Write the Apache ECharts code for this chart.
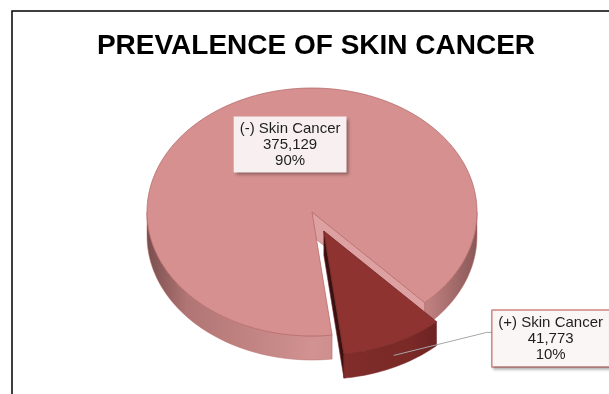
<!DOCTYPE html>
<html>
<head>
<meta charset="utf-8">
<script src="https://cdn.jsdelivr.net/npm/echarts@6/dist/echarts.min.js"></script>
<style>
html,body{margin:0;padding:0;background:#fff;}
#main{width:609px;height:394px;}
</style>
</head>
<body>
<div id="main"></div>
<script>
// prevalence of skin cancer - 3d looking pie drawn with a custom series

var categories = ['(-) Skin Cancer', '(+) Skin Cancer'];
var counts = [375129, 41773];

var COLOR = {
	TOP: ['#D5908F', '#8F3331'],
	EDGE: ['#B86C6B', '#732624'],
	FACE: ['#DCA1A0', '#3A1010'],
	WALL: [
		[[0,'#7A4E4E'],[0.12,'#B07574'],[0.5,'#D19291'],[0.85,'#C08080'],[1,'#8A5858']],
		[[0,'#5A1B1A'],[0.3,'#6E2422'],[0.55,'#812D2B'],[0.8,'#7A2927'],[1,'#5A1B1A']]
	]
};

var PIE = {cx:312, cy:212, rx:165, ry:124, depth:24, start:277, explode:[0,28]};
var LABEL_INSIDE = {r:0.6, dx:20, dy:0};
var LABEL_OUTSIDE = {dx:98, dy:-17, w:118};

var total = counts.reduce(function(a,b){return a+b;},0);

function rad(d){ return d*Math.PI/180; }

function fmt(v){
	return String(v).replace(/\B(?=(\d{3})+(?!\d))/g, ',');
}

function renderSlice(params, api){
	var idx = params.dataIndex;
	var before = 0;
	for (var i = 0; i < idx; i++) before += counts[i];
	var a0 = PIE.start - before/total*360;
	var a1 = a0 - api.value(1)/total*360;
	var mid = (a0+a1)/2;

	var off = PIE.explode[idx];
	var ox = PIE.cx + off*Math.cos(rad(mid));
	var oy = PIE.cy - off*Math.sin(rad(mid))*PIE.ry/PIE.rx;

	function pt(a, r, down){
		return [ox + r*PIE.rx*Math.cos(rad(a)), oy - r*PIE.ry*Math.sin(rad(a)) + (down||0)];
	}

	// sample angles along the arc
	var angles = [a1];
	for (var a = Math.ceil(a1/2)*2; a < a0; a += 2){
		if (a > a1) angles.push(a);
	}
	for (var k = Math.ceil(a1/180); k*180 < a0; k++){
		if (k*180 > a1) angles.push(k*180);
	}
	angles.push(a0);
	angles.sort(function(x,y){return x-y;});

	var children = [];
	var grad = new echarts.graphic.LinearGradient(PIE.cx-PIE.rx, 0, PIE.cx+PIE.rx, 0,
		COLOR.WALL[idx].map(function(s){return {offset:s[0], color:s[1]};}), true);

	// cut faces
	var faces = [];
	if (Math.cos(rad(a1)) > 0) faces.push(a1);
	if (Math.cos(rad(a0)) < 0) faces.push(a0);
	faces.forEach(function(fa){
		children.push({
			type:'polygon',
			shape:{points:[pt(fa,0), pt(fa,1), pt(fa,1,PIE.depth), pt(fa,0,PIE.depth)]},
			style:{fill:COLOR.FACE[idx], stroke:COLOR.EDGE[idx], lineWidth:0.6}
		});
	});

	// outer wall, only front half
	var runs = [], cur = null;
	angles.forEach(function(a){
		if (Math.sin(rad(a)) <= 1e-9){
			if (!cur){ cur = []; runs.push(cur); }
			cur.push(a);
		} else {
			cur = null;
		}
	});
	runs.forEach(function(run){
		if (run.length < 2) return;
		var top = run.map(function(a){return pt(a,1);});
		var bot = run.map(function(a){return pt(a,1,PIE.depth);}).reverse();
		children.push({
			type:'polygon',
			shape:{points:top.concat(bot)},
			style:{fill:grad, stroke:COLOR.EDGE[idx], lineWidth:0.5}
		});
	});

	// top surface
	var topPts = [pt(a1,0)].concat(angles.map(function(a){return pt(a,1);}));
	children.push({
		type:'polygon',
		shape:{points:topPts},
		style:{fill:COLOR.TOP[idx], stroke:COLOR.EDGE[idx], lineWidth:0.8}
	});

	// label
	var pct = Math.round(api.value(1)/total*100) + '%';
	var txt = categories[idx] + '\n' + fmt(api.value(1)) + '\n' + pct;
	var labelStyle = {
		text: txt,
		fill:'#1E1E1E',
		fontSize:15,
		fontFamily:'Liberation Sans, Arial, sans-serif',
		lineHeight:16,
		align:'center',
		verticalAlign:'middle',
		padding:[4,6,4,6],
		shadowBlur:3,
		shadowColor:'rgba(0,0,0,0.35)',
		shadowOffsetX:2,
		shadowOffsetY:2
	};
	if (idx === 0){
		var lp = pt(mid, LABEL_INSIDE.r);
		labelStyle.backgroundColor = '#F8F0F0';
		children.push({type:'text', x:lp[0]+LABEL_INSIDE.dx, y:lp[1]+LABEL_INSIDE.dy, z2:50, style:labelStyle});
	} else {
		var wp = pt(mid, 1, PIE.depth/2);
		var bx = wp[0] + LABEL_OUTSIDE.dx, by = wp[1] + LABEL_OUTSIDE.dy;
		children.push({
			type:'polyline',
			shape:{points:[wp, [bx-5, by-6], [bx, by-6]]},
			style:{stroke:'#A6A6A6', lineWidth:1, fill:null}
		});
		labelStyle.backgroundColor = '#FBF6F6';
		labelStyle.borderColor = '#C0504D';
		labelStyle.borderWidth = 1;
		children.push({type:'text', x:bx + LABEL_OUTSIDE.w/2, y:by, z2:50, style:labelStyle});
	}

	return {type:'group', children:children};
}

var myChart = echarts.init(document.getElementById('main'));
myChart.setOption({
	animation:false,
	title:{
		text:'PREVALENCE OF SKIN CANCER',
		left:311,
		top:27,
		textAlign:'center',
		textStyle:{
			color:'#000',
			fontSize:28,
			fontWeight:'bold',
			fontFamily:'Liberation Sans, Arial, sans-serif'
		}
	},
	graphic:[
		{
			type:'rect',
			shape:{x:12, y:11, width:640, height:430},
			style:{fill:null, stroke:'#000', lineWidth:1.5},
			silent:true
		}
	],
	series:[
		{
			type:'custom',
			coordinateSystem:'none',
			renderItem:renderSlice,
			data:counts.map(function(v,i){return {name:categories[i], value:[i, v]};})
		}
	]
});
</script>
</body>
</html>
